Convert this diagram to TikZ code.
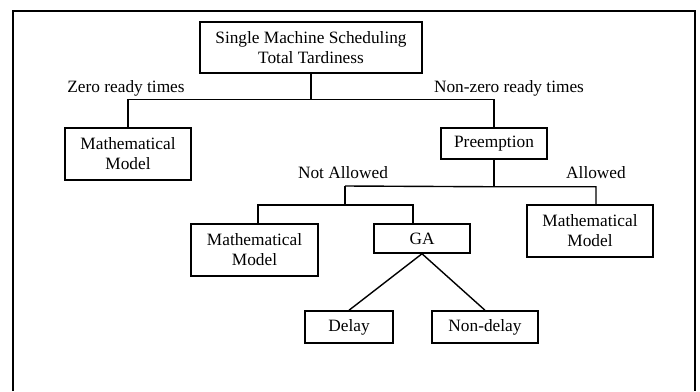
\documentclass[tikz,border=0pt]{standalone}
\usepackage{fontspec}
\setmainfont{Liberation Serif}
\begin{document}
\begin{tikzpicture}[x=1pt,y=-1pt,
  box/.style={draw,line width=1.5pt,align=center,inner sep=0pt,
    font=\fontsize{17.3}{20}\selectfont},
  lbl/.style={inner sep=0pt,font=\fontsize{17.3}{20}\selectfont},
  conn/.style={line width=1.4pt}]
\useasboundingbox (0,0) rectangle (700,391);
\draw[line width=2pt] (13,391) -- (13,11) -- (695,11) -- (695,391);
\node[box,minimum width=222pt,minimum height=51pt] (top) at (311,47.5) {Single Machine Scheduling\\Total Tardiness};
\node[lbl] (zero) at (126,88) {Zero ready times};
\node[lbl] (nonzero) at (509,88) {Non-zero ready times};
\node[box,minimum width=126pt,minimum height=52pt] (mm1) at (128,154) {Mathematical\\Model};
\node[box,minimum width=106pt,minimum height=31pt] (pre) at (494,143.5) {Preemption};
\node[lbl] (notall) at (343,173) {Not Allowed};
\node[lbl] (all) at (596,173) {Allowed};
\node[box,minimum width=127pt,minimum height=52pt] (mm2) at (254.5,250) {Mathematical\\Model};
\node[box,minimum width=96pt,minimum height=29pt] (ga) at (422,238.5) {GA};
\node[box,minimum width=126pt,minimum height=52pt] (mm3) at (590,231) {Mathematical\\Model};
\node[box,minimum width=88pt,minimum height=32pt] (delay) at (349,327) {Delay};
\node[box,minimum width=106pt,minimum height=32pt] (nondelay) at (485,327) {Non-delay};
% connectors
\draw[conn] (top.south) -- ++(0,26) coordinate (j1);
\draw[conn] (mm1.north) |- (j1) -| (pre.north);
\draw[conn] (pre.south) -- ++(0,27) coordinate (j2);
\coordinate (j3) at (345,186);
\draw[conn] (j3) -- (j2) -| ([xshift=6pt]mm3.north);
\draw[conn] (j3) -- (345,205) coordinate (j4);
\draw[conn] ([xshift=3.5pt]mm2.north) |- (j4) -| ([xshift=-9pt]ga.north);
\draw[conn] (ga.south) -- (delay.north);
\draw[conn] (ga.south) -- (nondelay.north);
\end{tikzpicture}
\end{document}
